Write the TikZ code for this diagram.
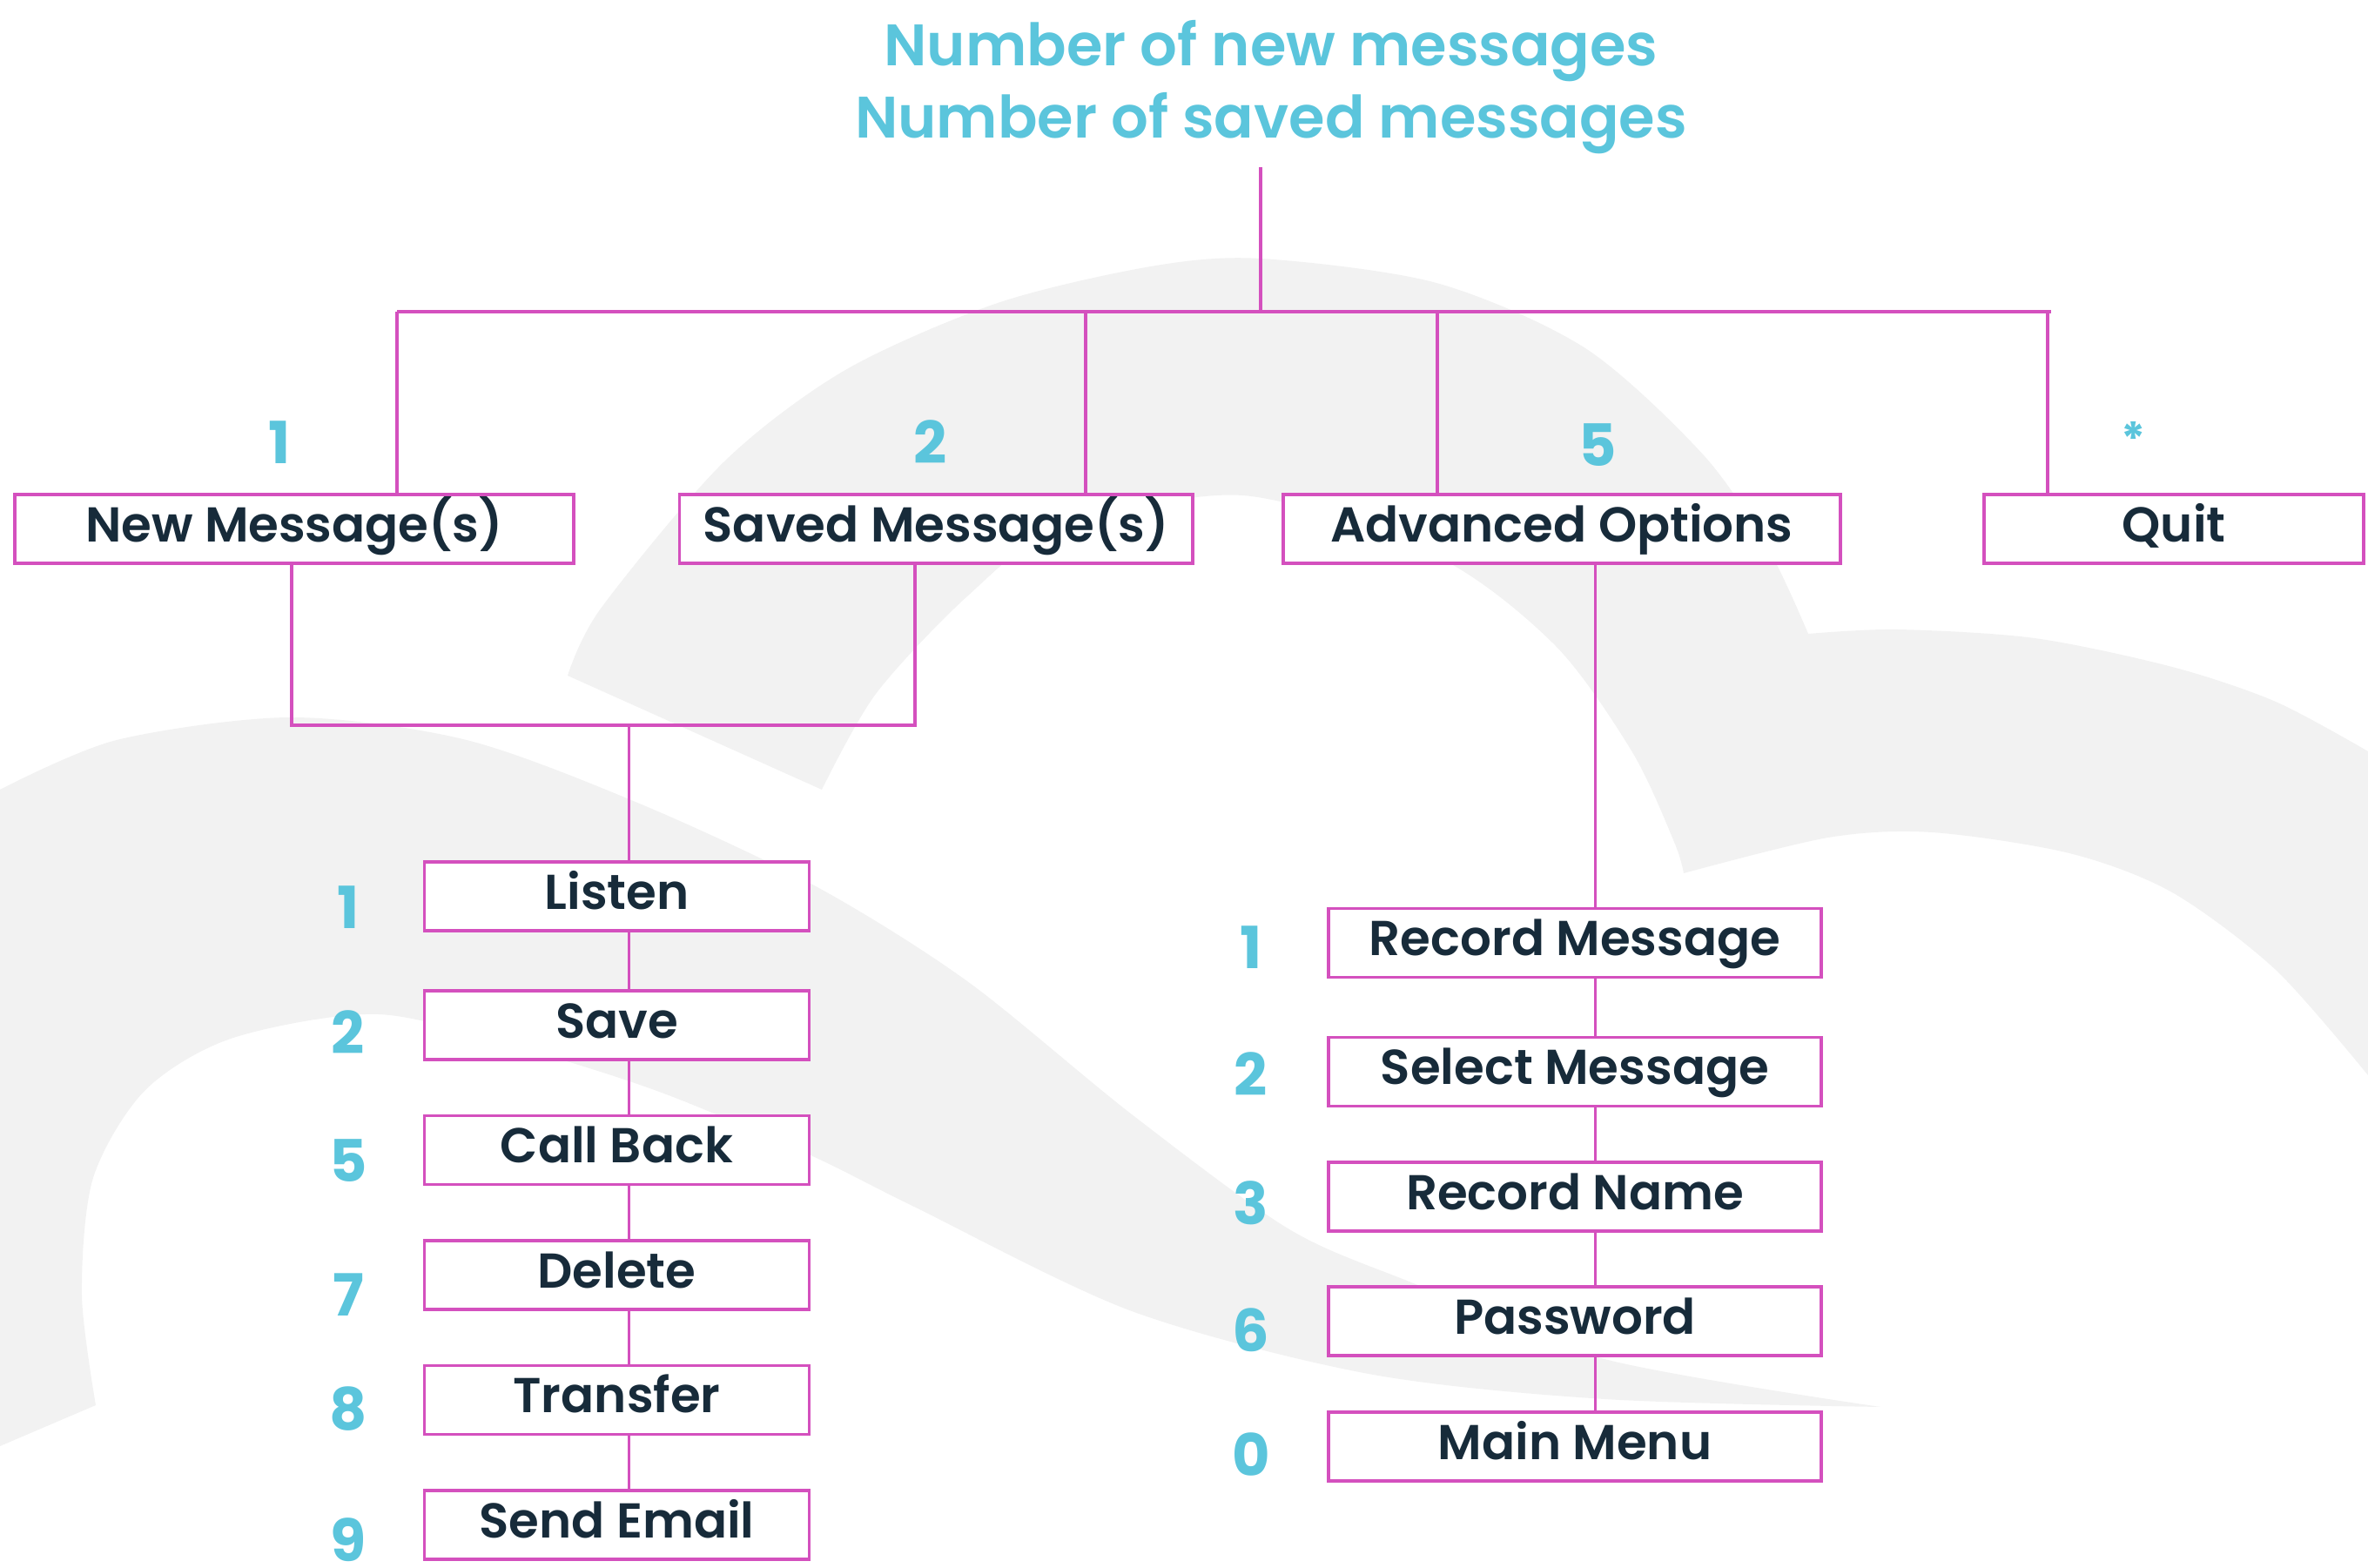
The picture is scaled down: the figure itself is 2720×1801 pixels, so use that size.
\documentclass[tikz,border=0pt]{standalone}
\usepackage{fontspec}
\setmainfont{Poppins}[BoldFont={Poppins SemiBold}]
\newfontfamily\keyfont{Poppins}[UprightFont={* Bold}]
\usetikzlibrary{positioning,calc}
\definecolor{menucyan}{RGB}{91,197,220}
\definecolor{menupink}{RGB}{212,80,190}
\definecolor{menunavy}{RGB}{23,43,58}
\definecolor{swirl}{RGB}{242,242,242}
\tikzset{
  menubox/.style={draw=menupink, line width=1pt, fill=white, text=menunavy,
    font=\bfseries\fontsize{16}{19}\selectfont, minimum height=0.79cm,
    text height=0.84em, text depth=0pt, inner sep=0pt},
  keylabel/.style={text=menucyan, font=\keyfont\fontsize{19}{22}\selectfont,
    text height=1.05em, text depth=0pt, inner sep=0pt},
  titletext/.style={text=menucyan, font=\bfseries\fontsize{19.1}{23.6}\selectfont,
    align=center, inner sep=0pt},
  link/.style={draw=menupink, line width=0.9pt},
}

\begin{document}
\begin{tikzpicture}[x=0.01cm, y=-0.01cm]
  \useasboundingbox (0,0) rectangle (2720,1801);

  % background swirl
  \fill[swirl] plot[smooth] coordinates {(652,776) (690,699) (831,531) (971,425) (1146,348)
      (1322,306) (1448,297) (1650,325) (1821,400) (1957,523) (2032,632) (2077,728)}
    -- plot[smooth] coordinates {(2077,728) (2179,723) (2337,733) (2495,766) (2614,806) (2720,863)}
    -- (2720,1235)
    -- plot[smooth] coordinates {(2720,1235) (2614,1114) (2495,1025) (2377,980) (2219,956) (2100,962) (1934,1003)}
    -- plot[smooth] coordinates {(1934,1003) (1923,967) (1875,864) (1786,741) (1650,639)
      (1427,569) (1216,608) (1111,685) (1006,797) (944,907)}
    -- cycle;
  \fill[swirl] plot[smooth] coordinates {(0,907) (134,850) (335,824) (536,850) (737,924)
      (937,1018) (1111,1127) (1300,1280) (1481,1412) (1626,1475) (1843,1561) (2160,1616)}
    -- plot[smooth] coordinates {(2160,1616) (1843,1607) (1572,1578) (1300,1506) (1050,1386)
      (929,1326) (760,1255) (603,1205) (435,1165) (268,1192) (167,1252) (107,1353) (94,1487) (110,1614)}
    -- (0,1661) -- cycle;

  % title
  \node[titletext] (title) at (1460,100) {Number of new messages\\Number of saved messages};
  \coordinate (hub) at (1448,192);
  \coordinate (barL) at (456,358);
  \coordinate (barR) at (2356,358);

  % main menu row
  \node[menubox, minimum width=6.42cm] (newmsg) at (338,607.7) {New Message(s)};
  \node[menubox, minimum width=5.89cm] (savedmsg) at (1075.3,607.7) {Saved Message(s)};
  \node[menubox, minimum width=6.40cm] (advopt) at (1794,607.7) {Advanced Options};
  \node[menubox, minimum width=4.36cm] (quit) at (2497,607.7) {Quit};

  \node[keylabel] (knew) at (321,514) {1};
  \node[keylabel] (ksaved) at (1068.5,514) {2};
  \node[keylabel] (kadv) at (1835,517) {5};
  \node[keylabel, font=\keyfont\fontsize{15}{18}\selectfont] (kquit) at (2451,505) {*};

  \draw[link] (hub) -- (hub |- barL);
  \draw[link] (barL) -- (barR);
  \draw[link] (barL) -- (newmsg.north -| barL);
  \draw[link] (1247,358) -- (savedmsg.north -| 1247,0);
  \draw[link] (1651,358) -- (advopt.north -| 1651,0);
  \draw[link] (2352,358) -- (quit.north -| 2352,0);

  % message submenu
  \coordinate (lspine) at (722.5,833);
  \foreach \name/\lbl/\key/\by/\ky in {l1/Listen/1/1029.5/1048, l2/Save/2/1177.5/1192,
      l3/Call Back/5/1321/1339, l4/Delete/7/1464.5/1493, l5/Transfer/8/1608/1624,
      l6/Send Email/9/1751.5/1775}
    {
      \node[menubox, minimum width=4.42cm] (\name) at (708.5,\by) {\lbl};
      \node[keylabel] (k\name) at (400,\ky) {\key};
    }
  \draw[link] (newmsg.south -| 335,0) -- (335,833) -- (1053,833);
  \draw[link] (savedmsg.south -| 1051,0) -- (1051,833);
  \draw[link] (lspine) -- (l1.north -| lspine);
  \foreach \a/\b in {l1/l2, l2/l3, l3/l4, l4/l5, l5/l6}
    \draw[link] (\a.south -| lspine) -- (\b.north -| lspine);

  % advanced submenu
  \coordinate (rspine) at (1832.5,0);
  \foreach \name/\lbl/\key/\by/\ky in {r1/Record Message/1/1083/1094.5, r2/Select Message/2/1231/1240,
      r3/Record Name/3/1374.5/1388, r4/Password/6/1517.7/1534, r5/Main Menu/0/1661.5/1677}
    {
      \node[menubox, minimum width=5.66cm] (\name) at (1809,\by) {\lbl};
      \node[keylabel] (k\name) at (1437,\ky) {\key};
    }
  \draw[link] (advopt.south -| rspine) -- (r1.north -| rspine);
  \foreach \a/\b in {r1/r2, r2/r3, r3/r4, r4/r5}
    \draw[link] (\a.south -| rspine) -- (\b.north -| rspine);
\end{tikzpicture}
\end{document}
